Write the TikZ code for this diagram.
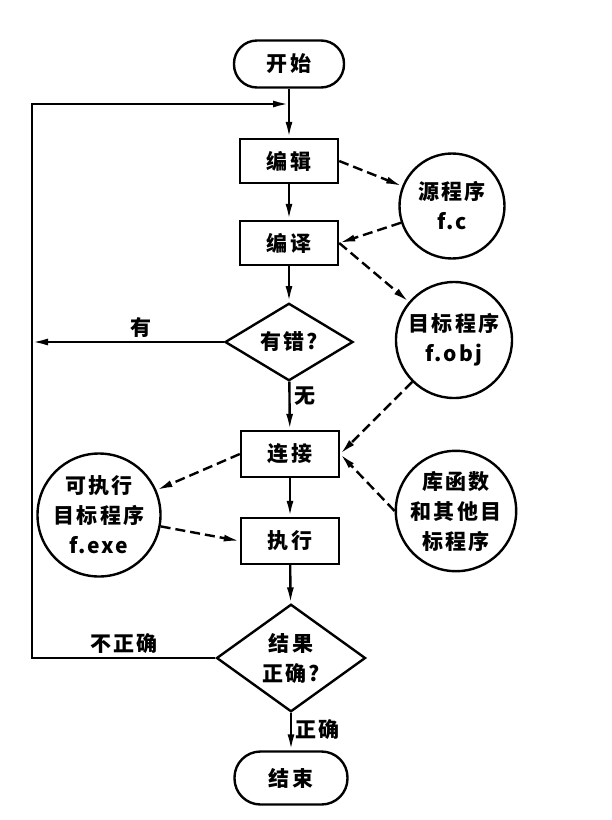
\documentclass[tikz,border=0pt]{standalone}
\usepackage{fontspec}
\newfontfamily\cjkfont{Noto Sans CJK SC}[LetterSpace=10]
\usetikzlibrary{shapes.geometric,arrows.meta,positioning}

\tikzset{
  flowline/.style={line width=2.4pt, -{Latex[length=16pt,width=7pt]}},
  dataline/.style={flowline, dash pattern=on 10pt off 5pt},
  procbox/.style={draw, line width=2.4pt, minimum width=98pt, minimum height=44pt, inner sep=0pt},
  termbox/.style={draw, line width=2.4pt, rounded corners=23pt, minimum width=110pt, minimum height=47pt, inner sep=0pt},
  decbox/.style={draw, diamond, line width=2.4pt, inner sep=0pt, align=center},
  filecirc/.style={draw, circle, line width=2.4pt, inner sep=0pt, align=center}
}

\begin{document}
\begin{tikzpicture}[x=1pt, y=-1pt, font=\cjkfont\bfseries\fontsize{21}{30}\selectfont]
\useasboundingbox (0,0) rectangle (611,820);

% main flow
\node[termbox] (start) at (289,64) {开始};
\node[procbox] (edit) at (289,161) {编辑};
\node[procbox] (comp) at (289,243) {编译};
\node[decbox, minimum width=128pt, minimum height=62pt] (err) at (289,342) {有错?};
\node[procbox, minimum height=46pt] (link) at (290,454) {连接};
\node[procbox, minimum height=46pt] (run) at (290,541) {执行};
\node[decbox, minimum width=149pt, minimum height=98pt] (ok) at (291,658) {结果\\正确?};
\node[termbox, minimum width=113pt, minimum height=53pt, rounded corners=26pt] (stop) at (291,778) {结束};

% files
\node[filecirc, minimum size=105pt] (src) at (452,206) {源程序\\f.c};
\node[filecirc, minimum size=116pt] (obj) at (454,340) {目标程序\\f.obj};
\node[filecirc, minimum size=118pt] (lib) at (456,511) {库函数\\和其他目\\标程序};
\node[filecirc, minimum size=123pt] (exe) at (99,515) {可执行\\目标程序\\f.exe};

\coordinate (merge) at (289,104);
\coordinate (lcorner) at (32,660);

\draw[flowline] (start) -- (edit);
\draw[flowline] (edit) -- (comp);
\draw[flowline] (comp) -- (err);
\draw[flowline] (err) -- node[right, pos=0.3] {无} (link);
\draw[flowline] (link) -- (run);
\draw[flowline] (run) -- (ok);
\draw[flowline] (ok) -- node[right, pos=0.45] {正确} (stop);

% back loops
\draw[flowline] (err.west) -- node[above, pos=0.43] {有} (err.west -| lcorner);
\draw[flowline] (ok.west) -- node[above, pos=0.5] {不正确} (ok.west -| lcorner) |- (merge);

% data flows
\draw[dataline] (edit.east) -- (src);
\draw[dataline] (src) -- (comp.east);
\draw[dataline] (comp.east) -- (obj);
\draw[dataline] (obj) -- (link.east);
\draw[dataline] (lib.west) -- (link.east);
\draw[dataline] (link.west) -- (exe);
\draw[dataline] (exe) -- (run.west);
\end{tikzpicture}
\end{document}
